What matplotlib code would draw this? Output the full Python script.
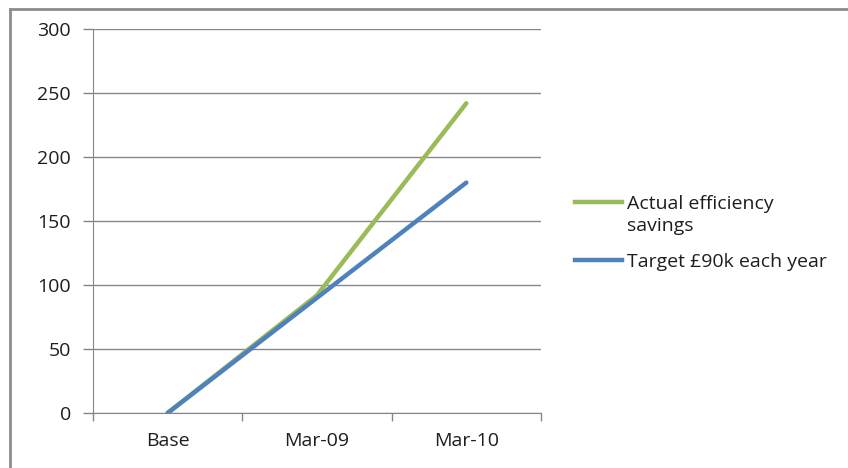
import matplotlib
matplotlib.use("Agg")
import matplotlib.pyplot as plt
from matplotlib.lines import Line2D
import numpy as np

categories = ["Base", "Mar-09", "Mar-10"]
actual_savings = [0, 92, 242]
target_savings = [0, 90, 180]
series_labels = ["Actual efficiency\nsavings", "Target £90k each year"]
series_colors = ["#9BBB59", "#4F81BD"]
y_ticks = [0, 50, 100, 150, 200, 250, 300]

plt.rcParams["font.family"] = ["Open Sans", "DejaVu Sans"]
FS = 14
TXT = "#1E1E1E"

W, H = 848, 468
fig = plt.figure(figsize=(W / 100, H / 100), dpi=100)
fig.patch.set_facecolor("white")

# outer chart frame (only top and left edges fall inside the canvas)
frame_color = "#8C8C8C"
fig.add_artist(Line2D([10 / W, 10 / W], [0, 1 - 9 / H], transform=fig.transFigure,
                      color=frame_color, lw=2))
fig.add_artist(Line2D([10 / W, 1], [1 - 9 / H, 1 - 9 / H], transform=fig.transFigure,
                      color=frame_color, lw=2))

ax = fig.add_axes([93 / W, (H - 413) / H, (541 - 93) / W, (413 - 29) / H])

x = np.arange(len(categories))
ax.plot(x, actual_savings, color=series_colors[0], lw=3.2, solid_capstyle="round", zorder=3)
ax.plot(x, target_savings, color=series_colors[1], lw=3.2, solid_capstyle="round", zorder=4)

ax.set_xlim(-0.5, len(categories) - 0.5)
ax.set_ylim(0, 300)

grid_color = "#868686"
ax.set_yticks(y_ticks)
ax.set_yticklabels([str(v) for v in y_ticks])
ax.yaxis.grid(True, color=grid_color, lw=1)
ax.set_axisbelow(True)

# category axis: ticks on boundaries, labels centered on categories
ax.set_xticks(np.arange(-0.5, len(categories)), labels=[""] * (len(categories) + 1))
ax.set_xticks(x, labels=categories, minor=True)
ax.tick_params(axis="x", which="major", length=6, width=1, color=grid_color, direction="out")
ax.tick_params(axis="x", which="minor", length=0, pad=14, labelsize=FS, labelcolor=TXT)
ax.tick_params(axis="y", length=7, width=1, color=grid_color, direction="out",
               pad=9, labelsize=FS, labelcolor=TXT)

for side in ["top", "right"]:
    ax.spines[side].set_visible(False)
ax.spines["left"].set_color(grid_color)
ax.spines["bottom"].set_color(grid_color)

# legend drawn alongside the plot
legend_rows = [202, 260]
for line_y, label, color in zip(legend_rows, series_labels, series_colors):
    fig.add_artist(Line2D([575 / W, 622 / W], [1 - line_y / H, 1 - line_y / H],
                          transform=fig.transFigure, color=color, lw=3.2))
    fig.text(627 / W, 1 - (line_y - 7) / H, label, ha="left", va="top",
             fontsize=FS, color=TXT, linespacing=1.3)

fig.savefig("out.png", dpi=100)
